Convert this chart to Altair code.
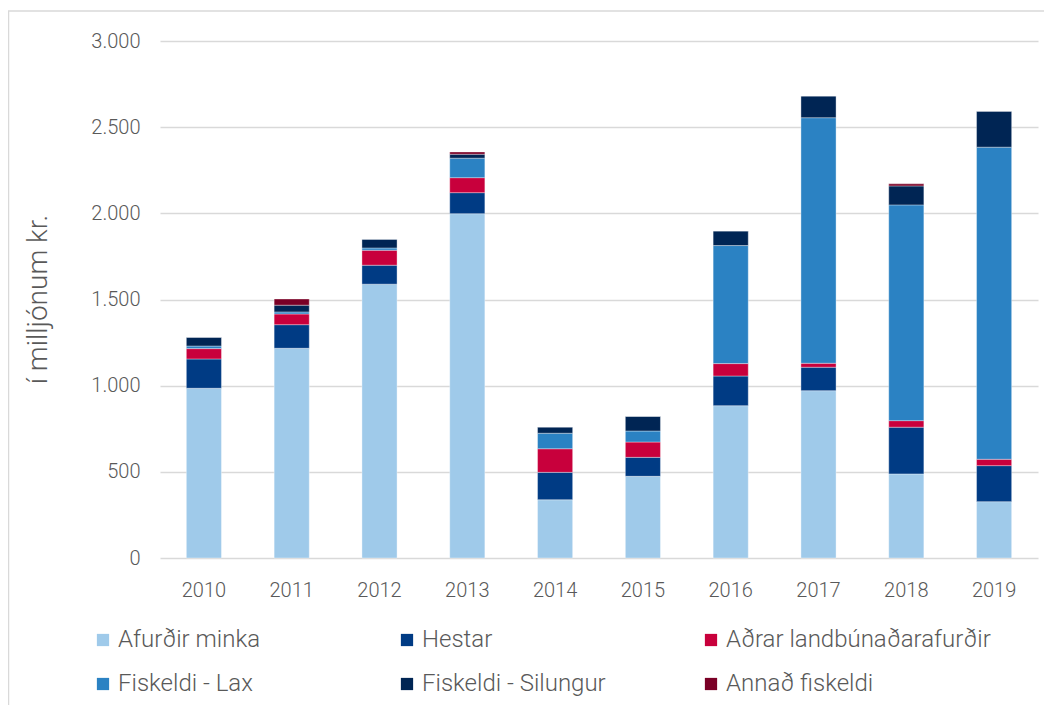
import altair as alt
import pandas as pd

years = ["2010", "2011", "2012", "2013", "2014", "2015", "2016", "2017", "2018", "2019"]
series = ["Afurðir minka", "Hestar", "Aðrar landbúnaðarafurðir",
          "Fiskeldi - Lax", "Fiskeldi - Silungur", "Annað fiskeldi"]
afurdir_minka = [985, 1217, 1589, 1998, 338, 474, 884, 971, 488, 327]
hestar = [170, 137, 110, 122, 159, 110, 172, 136, 271, 209]
adrar = [60, 62, 87, 87, 137, 89, 72, 23, 38, 37]
lax = [15, 12, 13, 113, 90, 64, 685, 1425, 1252, 1811]
silungur = [51, 39, 51, 23, 36, 85, 85, 126, 110, 209]
annad = [0, 36, 0, 13, 0, 0, 0, 0, 12, 0]
colors = ["#9fcaea", "#003b84", "#c8003c", "#2b82c3", "#002554", "#7a0026"]

values = [afurdir_minka, hestar, adrar, lax, silungur, annad]
rows = []
for si, (name, vals) in enumerate(zip(series, values)):
    for y, v in zip(years, vals):
        rows.append({"year": y, "series": name, "order": si, "value": v})
df = pd.DataFrame(rows)

FONT = "Roboto"
GRAY = "#595959"

bars = alt.Chart(df).mark_bar(stroke="#ffffff", strokeWidth=0.6, strokeOpacity=0.6).encode(
    x=alt.X("year:O", sort=years,
            scale=alt.Scale(paddingInner=0.6, paddingOuter=0.3),
            axis=alt.Axis(title=None, labelAngle=0, labelPadding=22, ticks=False,
                          domain=False, labelFontSize=20, labelColor=GRAY,
                          labelFont=FONT, labelFontWeight=300)),
    y=alt.Y("value:Q", stack="zero",
            scale=alt.Scale(domain=[0, 3000], nice=False),
            axis=alt.Axis(values=[0, 500, 1000, 1500, 2000, 2500, 3000],
                          labelExpr="replace(format(datum.value, ','), ',', '.')",
                          title="í milljónum kr.", titleFont=FONT, titleFontWeight=300,
                          titleFontSize=28, titleColor=GRAY, titleAngle=-90,
                          titleX=-122, titleY=258, titleAlign="center",
                          titleBaseline="middle",
                          labelPadding=20, ticks=False, domain=False,
                          labelFontSize=20, labelColor=GRAY, labelFont=FONT,
                          labelFontWeight=300, grid=True, gridColor="#d9d9d9",
                          gridWidth=1.5)),
    color=alt.Color("series:N", sort=series,
                    scale=alt.Scale(domain=series, range=colors),
                    legend=alt.Legend(title=None, orient="none", legendX=-69,
                                      legendY=587, columns=3, direction="horizontal",
                                      symbolType="square", symbolSize=150,
                                      symbolStrokeWidth=0, labelFont=FONT,
                                      labelFontWeight=300, labelFontSize=24,
                                      labelColor=GRAY, labelOffset=3,
                                      gridAlign="all", columnPadding=12,
                                      rowPadding=20, labelLimit=400)),
    order=alt.Order("order:Q", sort="ascending"),
)

frame = alt.Chart(alt.Data(values=[{}])).mark_rect(
    fill=None, stroke="#d9d9d9", strokeWidth=1.5
).encode(
    x=alt.value(-151.5), x2=alt.value(900), y=alt.value(-30), y2=alt.value(700)
)

chart = alt.layer(frame, bars).properties(
    width=878, height=517,
    autosize=alt.AutoSizeParams(type="none"),
    padding={"left": 152, "top": 33, "right": 6, "bottom": 147},
).configure_view(stroke=None)

chart.save("out.html", embed_options={"renderer": "svg", "actions": False})
